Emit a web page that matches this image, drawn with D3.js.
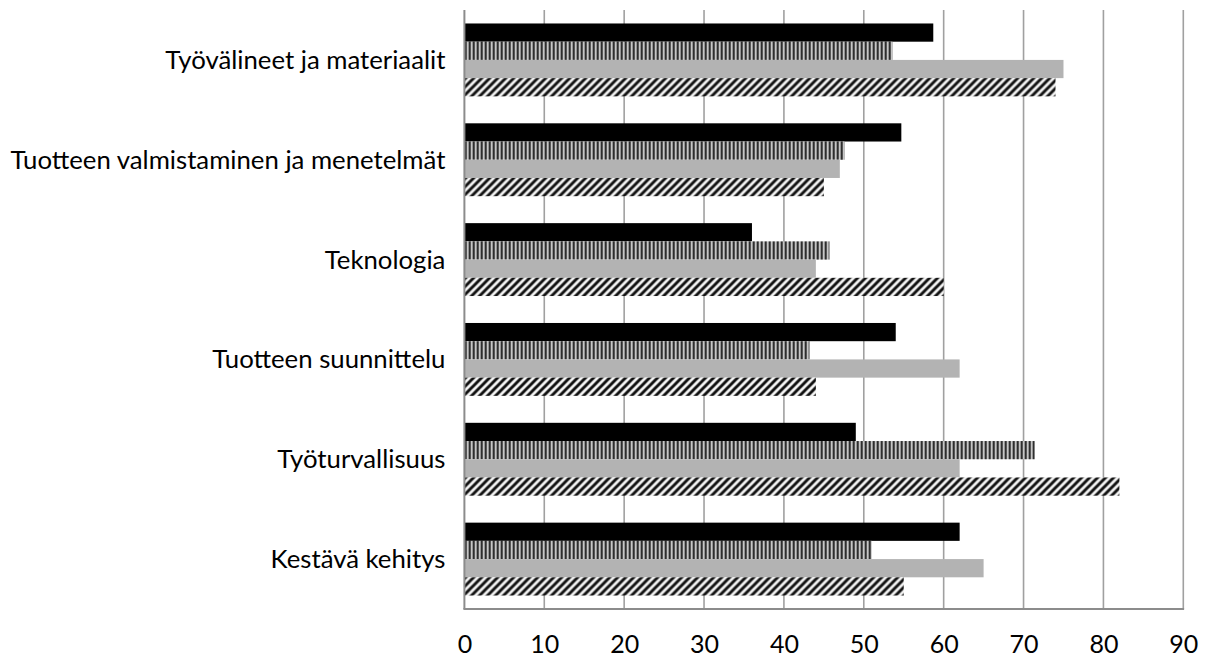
<!DOCTYPE html>
<html>
<head>
<meta charset="utf-8">
<script src="https://cdn.jsdelivr.net/npm/d3@7"></script>
<style>
  html, body { margin: 0; padding: 0; background: #fff; }
  svg { display: block; }
  text { font-family: Lato, "Open Sans", sans-serif; fill: #000; }
</style>
</head>
<body>
<svg id="chart" width="1214" height="657"></svg>
<script>
// Topic areas (top to bottom)
const categories = [
  "Työvälineet ja materiaalit",
  "Tuotteen valmistaminen ja menetelmät",
  "Teknologia",
  "Tuotteen suunnittelu",
  "Työturvallisuus",
  "Kestävä kehitys"
];

// Four response groups, in drawing order inside each topic
const seriesKeys = ["s1", "s2", "s3", "s4"];
const s1 = [58.7, 54.7, 36.0, 54.0, 49.0, 62.0];   // solid black
const s2 = [53.6, 47.6, 45.7, 43.2, 71.4, 51.0];   // vertical stripes
const s3 = [75.0, 47.0, 44.0, 62.0, 62.0, 65.0];   // solid grey
const s4 = [74.0, 45.0, 60.0, 44.0, 82.0, 55.0];   // diagonal stripes

const xTicks = [0, 10, 20, 30, 40, 50, 60, 70, 80, 90];

const rows = categories.map((c, i) => ({
  category: c,
  values: [s1[i], s2[i], s3[i], s4[i]]
}));

const svg = d3.select("#chart");
const plot = { left: 464.4, right: 1183.3, top: 10, bottom: 609 };

const x = d3.scaleLinear().domain([0, 90]).range([plot.left, plot.right]);
const y0 = d3.scaleBand().domain(categories)
  .range([plot.top, plot.bottom]).paddingInner(0.27).paddingOuter(0.135);
const y1 = d3.scaleBand().domain(seriesKeys).range([0, y0.bandwidth()]);

// Fill patterns
const defs = svg.append("defs");
const vp = defs.append("pattern").attr("id", "vstripe")
  .attr("patternUnits", "userSpaceOnUse")
  .attr("x", plot.left).attr("y", 0).attr("width", 4).attr("height", 10);
vp.append("rect").attr("width", 4).attr("height", 10).attr("fill", "#f2f2f2");
vp.append("rect").attr("x", 0.3).attr("width", 2.2).attr("height", 10).attr("fill", "#141414");

const dp = defs.append("pattern").attr("id", "dstripe")
  .attr("patternUnits", "userSpaceOnUse")
  .attr("x", plot.left).attr("y", 0).attr("width", 8).attr("height", 8);
dp.append("rect").attr("width", 8).attr("height", 8).attr("fill", "#f4f4f4");
dp.append("path")
  .attr("d", "M-2,2 L2,-2 M0,8 L8,0 M6,10 L10,6")
  .attr("stroke", "#111").attr("stroke-width", 2.9).attr("fill", "none");

const fills = { s1: "#000", s2: "url(#vstripe)", s3: "#b3b3b3", s4: "url(#dstripe)" };

// Vertical gridlines
svg.append("g").selectAll("line")
  .data(xTicks.slice(1))
  .join("line")
  .attr("x1", d => x(d)).attr("x2", d => x(d))
  .attr("y1", plot.top).attr("y2", plot.bottom)
  .attr("stroke", "#a0a0a0").attr("stroke-width", 1.6);

// Bars
svg.append("g").selectAll("g")
  .data(rows)
  .join("g")
  .attr("transform", d => `translate(0,${y0(d.category)})`)
  .selectAll("rect")
  .data(d => d.values.map((v, k) => ({ key: seriesKeys[k], value: v })))
  .join("rect")
  .attr("x", x(0))
  .attr("y", d => y1(d.key))
  .attr("width", d => x(d.value) - x(0))
  .attr("height", y1.bandwidth())
  .attr("fill", d => fills[d.key]);

// Axis lines
svg.append("line")
  .attr("x1", plot.left).attr("x2", plot.left)
  .attr("y1", plot.top).attr("y2", plot.bottom)
  .attr("stroke", "#8c8c8c").attr("stroke-width", 2);
svg.append("line")
  .attr("x1", plot.left - 1).attr("x2", plot.right + 0.8)
  .attr("y1", plot.bottom).attr("y2", plot.bottom)
  .attr("stroke", "#8c8c8c").attr("stroke-width", 2);

// Bottom tick labels via d3 axis (ticks hidden, gridlines drawn above)
const xAxis = svg.append("g")
  .attr("transform", `translate(0,${plot.bottom})`)
  .call(d3.axisBottom(x).tickValues(xTicks).tickSize(0).tickPadding(0));
xAxis.select(".domain").remove();
xAxis.selectAll("text")
  .attr("y", 44).attr("dy", null)
  .attr("font-size", 25).attr("font-family", null).attr("fill", "#000");

// Category labels via d3 axis
const yAxis = svg.append("g")
  .attr("transform", `translate(${plot.left},0)`)
  .call(d3.axisLeft(y0.copy().paddingInner(0).paddingOuter(0)).tickSize(0).tickPadding(19));
yAxis.select(".domain").remove();
const labels = yAxis.selectAll("text")
  .attr("font-size", 24).attr("font-family", null).attr("fill", "#000")
  .attr("dy", "0.35em");

// Fit the label font so the longest label spans the left margin
let widest = 0;
labels.each(function () { widest = Math.max(widest, this.getComputedTextLength()); });
const labelSize = 24 * 435 / widest;
labels.attr("font-size", labelSize);
</script>
</body>
</html>
